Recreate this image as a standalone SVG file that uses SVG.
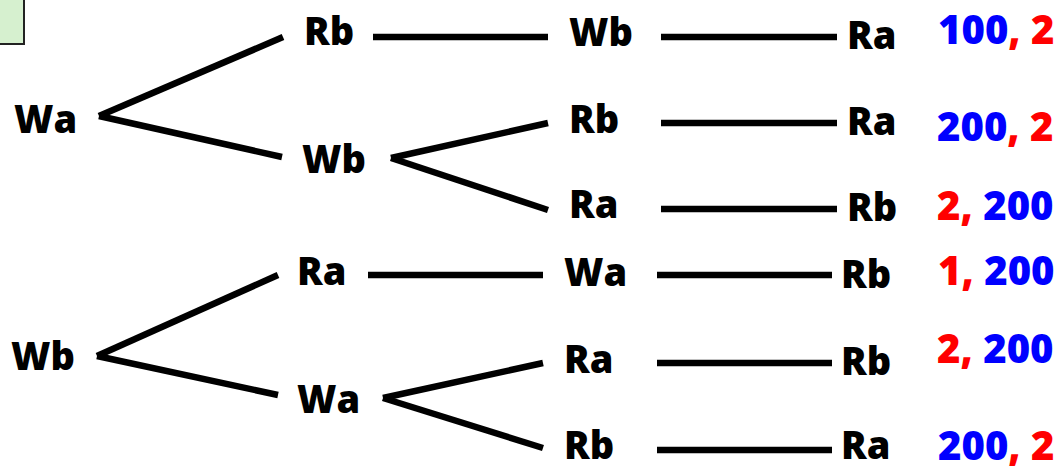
<svg xmlns="http://www.w3.org/2000/svg" width="1060" height="466" viewBox="0 0 1060 466">
<style>
.n{font-family:"Open Sans","Liberation Sans",sans-serif;font-weight:800;font-size:38px;fill:#000}
.v{font-family:"Open Sans","Liberation Sans",sans-serif;font-weight:800;font-size:40px}
.b{fill:#0000ff}
.r{fill:#ff0000}
.c line{stroke:#000;stroke-width:6.5;stroke-linecap:butt}
</style>
<rect x="-10" y="-10" width="34" height="54" fill="#d6f0cf" stroke="#222" stroke-width="2"/>
<g class="c" id="connectors">
<line x1="99" y1="116" x2="283" y2="37"/>
<line x1="99" y1="116" x2="282" y2="157"/>
<line x1="373" y1="37" x2="548" y2="37"/>
<line x1="661" y1="37" x2="837" y2="37"/>
<line x1="391" y1="158" x2="548" y2="123"/>
<line x1="391" y1="158" x2="548" y2="210"/>
<line x1="661" y1="123" x2="837" y2="123"/>
<line x1="661" y1="209" x2="837" y2="209"/>
<line x1="97" y1="356" x2="278" y2="275"/>
<line x1="97" y1="356" x2="278" y2="395"/>
<line x1="368" y1="275" x2="543" y2="275"/>
<line x1="657" y1="275" x2="832" y2="275"/>
<line x1="383" y1="398" x2="543" y2="363"/>
<line x1="383" y1="398" x2="543" y2="448"/>
<line x1="657" y1="363" x2="832" y2="363"/>
<line x1="657" y1="450" x2="832" y2="450"/>
</g>
<g id="n-wa1"><text class="n" x="14" y="133">Wa</text></g>
<g id="n-rb1"><text class="n" x="304" y="45">Rb</text></g>
<g id="n-wb1"><text class="n" x="302" y="173">Wb</text></g>
<g id="n-wb2"><text class="n" x="569" y="46">Wb</text></g>
<g id="n-rb2"><text class="n" x="569" y="133">Rb</text></g>
<g id="n-ra2"><text class="n" x="569" y="218">Ra</text></g>
<g id="n-ra3"><text class="n" x="847" y="49">Ra</text></g>
<g id="n-ra4"><text class="n" x="847" y="135">Ra</text></g>
<g id="n-rb4"><text class="n" x="847" y="221">Rb</text></g>
<g id="n-wb5"><text class="n" x="11" y="370">Wb</text></g>
<g id="n-ra5"><text class="n" x="297" y="285">Ra</text></g>
<g id="n-wa5"><text class="n" x="297" y="413">Wa</text></g>
<g id="n-wa6"><text class="n" x="564" y="286">Wa</text></g>
<g id="n-ra6"><text class="n" x="564" y="373">Ra</text></g>
<g id="n-rb6"><text class="n" x="564" y="459">Rb</text></g>
<g id="n-rb7"><text class="n" x="841" y="288">Rb</text></g>
<g id="n-rb8"><text class="n" x="841" y="375">Rb</text></g>
<g id="n-ra8"><text class="n" x="841" y="459">Ra</text></g>
<g id="payoffs">
<text class="v" x="938" y="44"><tspan class="b">100</tspan><tspan class="r">, 2</tspan></text>
<text class="v" x="937" y="141"><tspan class="b">200</tspan><tspan class="r">, 2</tspan></text>
<text class="v" x="937" y="220"><tspan class="r">2,</tspan><tspan class="b"> 200</tspan></text>
<text class="v" x="938" y="285"><tspan class="r">1,</tspan><tspan class="b"> 200</tspan></text>
<text class="v" x="937" y="363"><tspan class="r">2,</tspan><tspan class="b"> 200</tspan></text>
<text class="v" x="938" y="460"><tspan class="b">200</tspan><tspan class="r">, 2</tspan></text>
</g>
</svg>
